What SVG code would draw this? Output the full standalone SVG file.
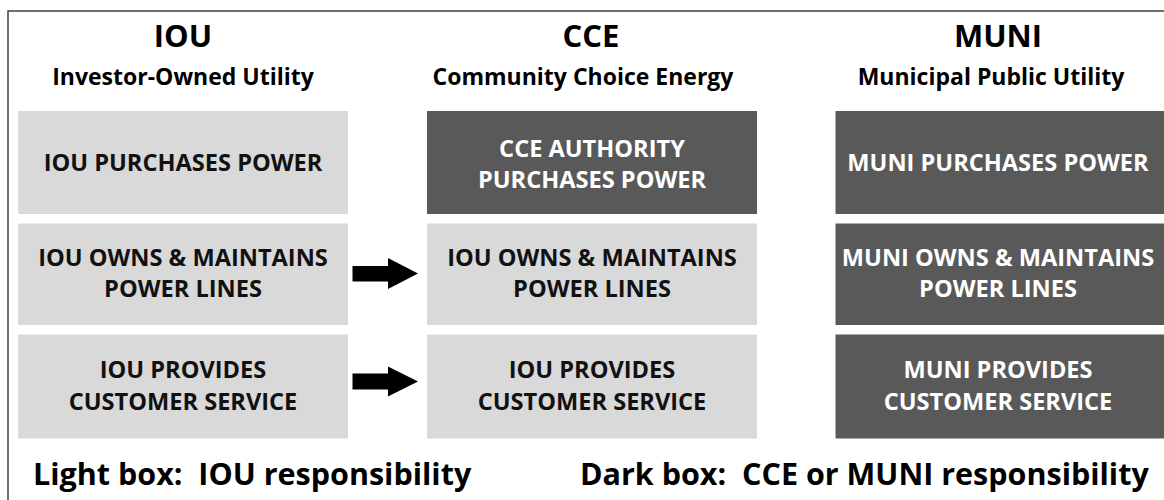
<svg xmlns="http://www.w3.org/2000/svg" width="1164" height="500" viewBox="0 0 1164 500">
  <style>
    text { font-family: "Open Sans", Lato, "Liberation Sans", sans-serif; font-weight: bold; text-anchor: middle; }
    .title { font-size: 31px; fill: #000; }
    .sub { font-size: 23px; fill: #000; }
    .light rect { fill: #d9d9d9; }
    .dark rect { fill: #595959; }
    .light text { font-size: 23.6px; fill: #111; }
    .dark text { font-size: 23.6px; fill: #fff; }
    .legend { font-size: 30.5px; fill: #000; text-anchor: start; }
    .arrow { fill: #000; }
  </style>
  <rect width="1164" height="500" fill="#fff"/>
  <path d="M8,500 V11 H1164" fill="none" stroke="#404040" stroke-width="1.5"/>

  <g id="header-iou">
    <text class="title" x="183" y="47">IOU</text>
    <text class="sub" x="183" y="85">Investor-Owned Utility</text>
  </g>
  <g id="header-cce">
    <text class="title" x="591" y="47">CCE</text>
    <text class="sub" x="583" y="85">Community Choice Energy</text>
  </g>
  <g id="header-muni">
    <text class="title" x="998" y="47">MUNI</text>
    <text class="sub" x="991" y="85">Municipal Public Utility</text>
  </g>

  <g id="iou-purchases" class="light">
    <rect x="18" y="111" width="330" height="103"/>
    <text x="183" y="171">IOU PURCHASES POWER</text>
  </g>
  <g id="iou-lines" class="light">
    <rect x="18" y="223.5" width="330" height="101.5"/>
    <text x="183" y="266">IOU OWNS &amp; MAINTAINS</text>
    <text x="183" y="297">POWER LINES</text>
  </g>
  <g id="iou-service" class="light">
    <rect x="18" y="334.5" width="330" height="104"/>
    <text x="183" y="378">IOU PROVIDES</text>
    <text x="183" y="410">CUSTOMER SERVICE</text>
  </g>

  <g id="cce-purchases" class="dark">
    <rect x="427" y="111" width="330" height="103"/>
    <text x="592" y="157">CCE AUTHORITY</text>
    <text x="592" y="188">PURCHASES POWER</text>
  </g>
  <g id="cce-lines" class="light">
    <rect x="427" y="223.5" width="330" height="101.5"/>
    <text x="592" y="266">IOU OWNS &amp; MAINTAINS</text>
    <text x="592" y="297">POWER LINES</text>
  </g>
  <g id="cce-service" class="light">
    <rect x="427" y="334.5" width="330" height="104"/>
    <text x="592" y="378">IOU PROVIDES</text>
    <text x="592" y="410">CUSTOMER SERVICE</text>
  </g>

  <g id="muni-purchases" class="dark">
    <rect x="835.5" y="111" width="330" height="103"/>
    <text x="998" y="171">MUNI PURCHASES POWER</text>
  </g>
  <g id="muni-lines" class="dark">
    <rect x="835.5" y="223.5" width="330" height="101.5"/>
    <text x="998" y="266">MUNI OWNS &amp; MAINTAINS</text>
    <text x="998" y="297">POWER LINES</text>
  </g>
  <g id="muni-service" class="dark">
    <rect x="835.5" y="334.5" width="330" height="104"/>
    <text x="998" y="378">MUNI PROVIDES</text>
    <text x="998" y="410">CUSTOMER SERVICE</text>
  </g>

  <g id="connectors">
    <path class="arrow" d="M352.5,266 H388 V258 L418,273.5 L388,289 V281.5 H352.5 Z"/>
    <path class="arrow" d="M352.5,373.5 H388 V366.5 L418,381.5 L388,396.5 V389.5 H352.5 Z"/>
  </g>

  <g id="legend">
    <text class="legend" x="33" y="485" xml:space="preserve">Light box:  IOU responsibility</text>
    <text class="legend" x="580" y="485" xml:space="preserve">Dark box:  CCE or MUNI responsibility</text>
  </g>
</svg>
